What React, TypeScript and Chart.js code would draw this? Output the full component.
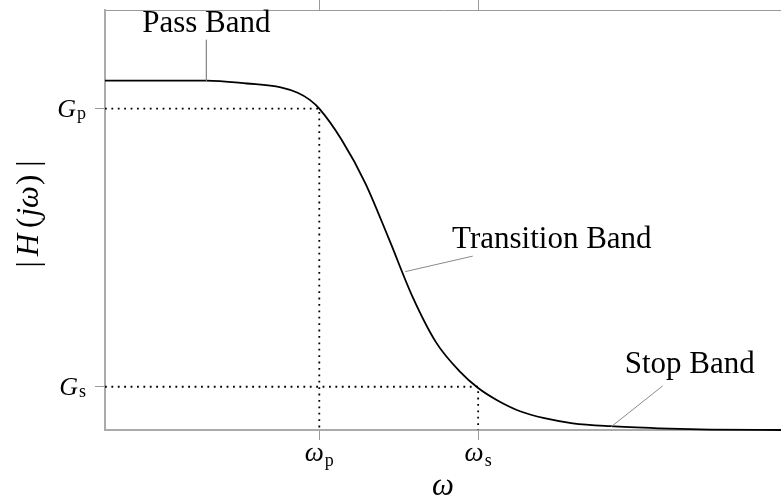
import { useEffect, useRef } from 'react';
import { Chart, registerables } from 'chart.js';

Chart.register(...registerables);

// ---- data (normalised frequency / magnitude units) ----
const omega = [0, 1.5, 2.1, 2.6, 2.85, 3.03, 3.17, 3.5, 3.85, 4.2, 4.55, 4.9, 5.25, 5.52, 5.8, 6.15, 6.5, 6.92, 7.47, 8.2, 8.95, 10];
const magnitude = [0.832, 0.832, 0.825, 0.816, 0.803, 0.786, 0.765, 0.691, 0.588, 0.455, 0.317, 0.208, 0.139, 0.1, 0.071, 0.044, 0.028, 0.016, 0.009, 0.004, 0.001, 0];

const omegaP = 3.17;
const omegaS = 5.52;
const gainP = 0.765;
const gainS = 0.103;

const xTickValues = [omegaP, omegaS];
const xTickMain = ['ω', 'ω'];
const xTickSub = ['p', 's'];
const yTickValues = [gainP, gainS];
const yTickMain = ['G', 'G'];
const yTickSub = ['p', 's'];

const bandLabels = ['Pass Band', 'Transition Band', 'Stop Band'];
const bandLabelX = [1.5, 6.61, 8.65];
const bandLabelY = [0.948, 0.433, 0.136];
const leaderStartX = [1.5, 5.44, 8.25];
const leaderStartY = [0.929, 0.414, 0.105];
const leaderEndX = [1.5, 4.44, 7.49];
const leaderEndY = [0.832, 0.377, 0.008];

const X_MIN = 0;
const X_MAX = 10;
const Y_MIN = 0;
const Y_MAX = 1;

const SERIF = '"Liberation Serif", "DejaVu Serif", serif';

type Seg = { text: string; italic?: boolean; size: number; dy?: number; gap?: number };

function drawRich(ctx: CanvasRenderingContext2D, segs: Seg[], x: number, y: number, align: 'left' | 'center' | 'right') {
  let total = 0;
  const widths: number[] = [];
  segs.forEach((s) => {
    ctx.font = `${s.italic ? 'italic ' : ''}${s.size}px ${SERIF}`;
    const w = ctx.measureText(s.text).width;
    widths.push(w);
    total += w + (s.gap || 0);
  });
  let cx = align === 'center' ? x - total / 2 : align === 'right' ? x - total : x;
  segs.forEach((s, i) => {
    cx += s.gap || 0;
    ctx.font = `${s.italic ? 'italic ' : ''}${s.size}px ${SERIF}`;
    ctx.fillText(s.text, cx, y + (s.dy || 0));
    cx += widths[i];
  });
}

const textPlugin = {
  id: 'textPlugin',
  afterDraw(chart: any) {
    const ctx: CanvasRenderingContext2D = chart.ctx;
    const xs = chart.scales.x;
    const ys = chart.scales.y;
    const area = chart.chartArea;
    ctx.save();
    ctx.fillStyle = '#000';
    ctx.textBaseline = 'alphabetic';
    ctx.textAlign = 'left';

    // x tick labels
    xTickValues.forEach((v, i) => {
      const px = xs.getPixelForValue(v);
      drawRich(ctx, [
        { text: xTickMain[i], italic: true, size: 27 },
        { text: xTickSub[i], size: 18, dy: 5.5, gap: 1 },
      ], px, area.bottom + 30.5, 'center');
    });

    // y tick labels
    yTickValues.forEach((v, i) => {
      const py = ys.getPixelForValue(v);
      drawRich(ctx, [
        { text: yTickMain[i], italic: true, size: 26 },
        { text: yTickSub[i], size: 18, dy: 2, gap: 1 },
      ], area.left - 19, py + 8.5, 'right');
    });

    // x axis title
    drawRich(ctx, [{ text: 'ω', italic: true, size: 31 }], (area.left + area.right) / 2, 495, 'center');

    // y axis title (rotated)
    ctx.save();
    ctx.translate(38, (area.top + area.bottom) / 2 - 6);
    ctx.rotate(-Math.PI / 2);
    drawRich(ctx, [
      { text: '|', size: 31 },
      { text: 'H', italic: true, size: 31, gap: 5 },
      { text: '(', size: 31, gap: 6 },
      { text: 'jω', italic: true, size: 31, gap: 1 },
      { text: ')', size: 31, gap: 1 },
      { text: '|', size: 31, gap: 8 },
    ], 0, 0, 'center');
    ctx.restore();

    // band annotations
    bandLabels.forEach((t, i) => {
      drawRich(ctx, [{ text: t, size: 31 }], xs.getPixelForValue(bandLabelX[i]), ys.getPixelForValue(bandLabelY[i]), 'center');
    });
    ctx.restore();
  },
};

export default function App() {
  const ref = useRef<HTMLCanvasElement>(null);

  useEffect(() => {
    const canvas = ref.current!;
    const curve = omega.map((x, i) => ({ x, y: magnitude[i] }));
    const leaderSets = bandLabels.map((_, i) => ({
      data: [
        { x: leaderStartX[i], y: leaderStartY[i] },
        { x: leaderEndX[i], y: leaderEndY[i] },
      ],
      showLine: true,
      borderColor: '#8a8a8a',
      borderWidth: 1,
      pointRadius: 0,
      clip: false as any,
    }));
    const dotted = (xv: number, yv: number) => ({
      data: [
        { x: X_MIN, y: yv },
        { x: xv, y: yv },
        { x: xv, y: Y_MIN },
      ],
      showLine: true,
      borderColor: '#000',
      borderWidth: 1.8,
      borderDash: [1.8, 4.6],
      borderCapStyle: 'butt' as const,
      pointRadius: 0,
      tension: 0,
    });

    const tickScale = (values: number[]) => (s: any) => {
      s.ticks = values.map((v) => ({ value: v }));
    };

    const chart = new Chart(canvas, {
      type: 'scatter',
      data: {
        datasets: [
          dotted(omegaP, gainP),
          dotted(omegaS, gainS),
          ...leaderSets,
          {
            data: curve,
            showLine: true,
            borderColor: '#000',
            borderWidth: 1.8,
            pointRadius: 0,
            cubicInterpolationMode: 'monotone',
            clip: false as any,
          } as any,
        ],
      },
      options: {
        responsive: false,
        animation: false,
        devicePixelRatio: 1,
        layout: { padding: 0 },
        plugins: { legend: { display: false }, tooltip: { enabled: false } },
        events: [],
        scales: {
          x: {
            type: 'linear',
            position: 'bottom',
            min: X_MIN,
            max: X_MAX,
            afterBuildTicks: tickScale(xTickValues),
            afterFit: (s: any) => { s.height = 70; },
            ticks: { display: false },
            grid: { drawOnChartArea: false, drawTicks: true, tickLength: 10, color: '#9a9a9a', lineWidth: 1 },
            border: { display: true, color: '#ababab', width: 2 },
          },
          x2: {
            type: 'linear',
            axis: 'x',
            position: 'top',
            min: X_MIN,
            max: X_MAX,
            afterBuildTicks: tickScale(xTickValues),
            afterFit: (s: any) => { s.height = 10; },
            ticks: { display: false },
            grid: { drawOnChartArea: false, drawTicks: true, tickLength: 10, color: '#9a9a9a', lineWidth: 1 },
            border: { display: true, color: '#9a9a9a', width: 1 },
          },
          y: {
            type: 'linear',
            position: 'left',
            min: Y_MIN,
            max: Y_MAX,
            afterBuildTicks: tickScale(yTickValues),
            afterFit: (s: any) => { s.width = 105; },
            ticks: { display: false },
            grid: { drawOnChartArea: false, drawTicks: true, tickLength: 10, color: '#9a9a9a', lineWidth: 1 },
            border: { display: true, color: '#ababab', width: 2 },
          },
        } as any,
      },
      plugins: [textPlugin],
    });
    return () => chart.destroy();
  }, []);

  return (
    <canvas
      ref={ref}
      width={781}
      height={500}
      style={{ position: 'fixed', left: 0, top: 0, width: '781px', height: '500px', display: 'block', background: '#fff' }}
    />
  );
}
